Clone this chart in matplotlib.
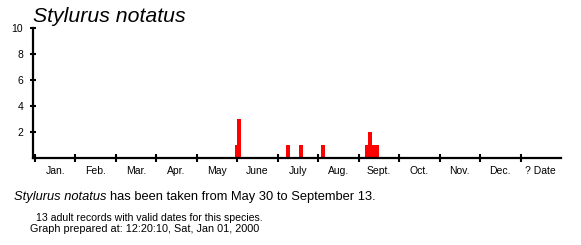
#!/usr/bin/env python3

import calendar

import matplotlib
matplotlib.use('Agg')
import matplotlib.pyplot

species = 'Stylurus notatus'
monthLabels = ['Jan.', 'Feb.', 'Mar.', 'Apr.', 'May', 'June', 'July', 'Aug.', 'Sept.', 'Oct.', 'Nov.', 'Dec.', '? Date']
# (month, day) of each dated record and how many adults were taken that day
recordMonths = [5, 6, 7, 7, 8, 9, 9, 9, 9, 9]
recordDays = [30, 1, 7, 17, 3, 6, 8, 10, 12, 13]
recordCounts = [1, 3, 1, 1, 1, 1, 2, 1, 1, 1]
yTicks = [2, 4, 6, 8, 10]
summary = 'has been taken from May 30 to September 13.'
nRecords = '13 adult records with valid dates for this species.'
prepared = 'Graph prepared at: 12:20:10, Sat, Jan 01, 2000'

def monthPosition(month:int, day:int) -> float:
    '''Each month gets one unit of width, days spread evenly inside it.'''
    return (month - 1) + (day - 1) / calendar.monthrange(2001, month)[1]

def main():
    matplotlib.pyplot.rcParams['font.family'] = ['Liberation Sans', 'DejaVu Sans']
    W, H = 581, 245
    f = matplotlib.pyplot.figure(figsize=(W/100, H/100), dpi=100)
    ax = f.add_axes([33/W, 87/H, (561-33)/W, 130/H])

    x = [monthPosition(m, d) for m, d in zip(recordMonths, recordDays)]
    ax.bar(x, recordCounts, width=0.1, align='edge', color='#ff0000', linewidth=0, zorder=2)

    ax.set_xlim(-0.05, 13)
    ax.set_ylim(0, 10)
    for side in ['top', 'right']:
        ax.spines[side].set_visible(False)
    for side in ['left', 'bottom']:
        ax.spines[side].set_linewidth(1.6)
        ax.spines[side].set_zorder(3)

    ax.set_yticks(yTicks)
    ax.set_yticklabels([str(t) for t in yTicks], fontsize=7.5)
    ax.set_xticks(range(13))
    ax.set_xticklabels([])
    ax.set_xticks([i + 0.5 for i in range(13)], minor=True)
    ax.set_xticklabels(monthLabels, minor=True, fontsize=7.5)
    ax.tick_params(axis='y', direction='inout', length=5, width=1.5, pad=4.5)
    ax.tick_params(axis='x', which='major', direction='inout', length=6, width=1.5)
    ax.tick_params(axis='x', which='minor', length=0, pad=5.5)

    f.text(33/W, 1 - 16/H, species, fontsize=15.3, style='italic', va='center', ha='left')
    t = f.text(14/W, 1 - 197/H, species, fontsize=9.3, style='italic', va='center', ha='left')
    f.canvas.draw()
    bb = t.get_window_extent()
    f.text((bb.x1 + 4)/W, 1 - 197/H, summary, fontsize=9.3, va='center', ha='left')
    f.text(36/W, 1 - 218/H, nRecords, fontsize=7.6, va='center', ha='left')
    f.text(30/W, 1 - 229/H, prepared, fontsize=7.8, va='center', ha='left')

    matplotlib.pyplot.savefig('out.png', dpi=100)
    matplotlib.pyplot.close('all')

if __name__ == "__main__":
    main()
